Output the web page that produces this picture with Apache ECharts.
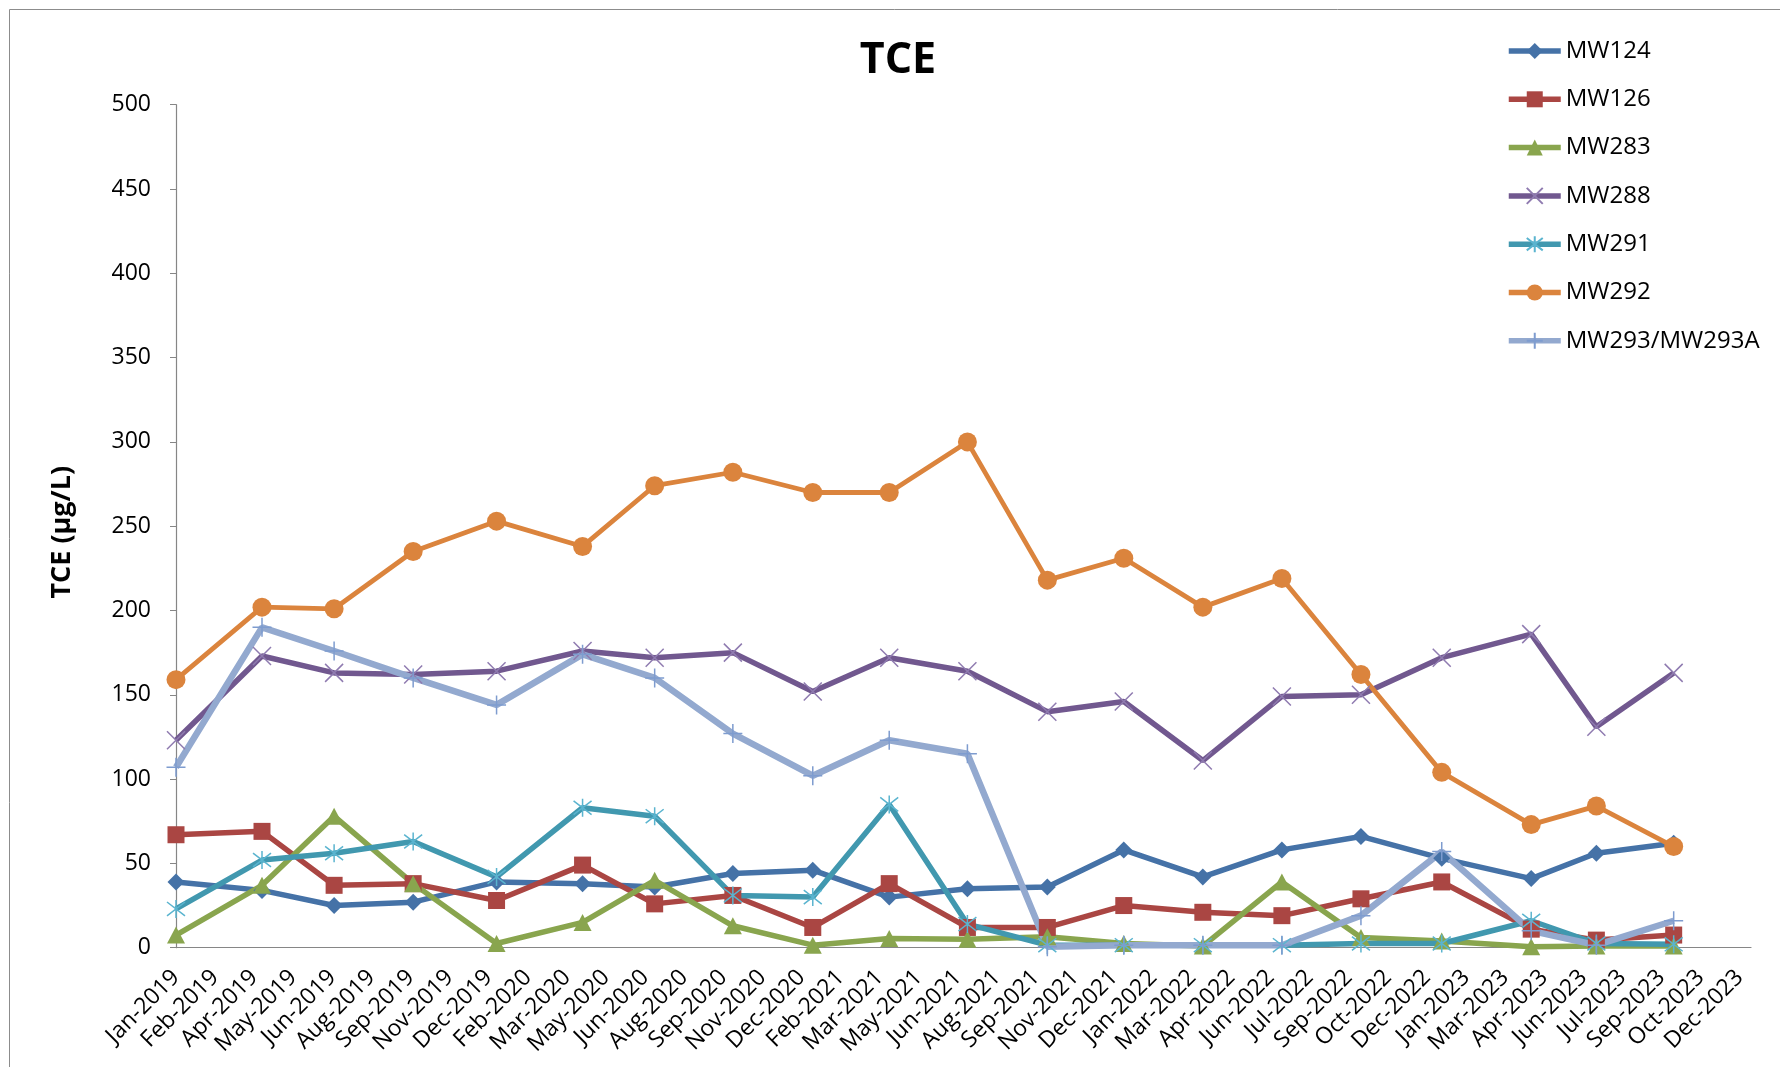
<!DOCTYPE html>
<html><head><meta charset="utf-8">
<script src="https://cdn.jsdelivr.net/npm/echarts@6/dist/echarts.min.js"></script>
<style>html,body{margin:0;padding:0;background:#fff}#c{width:1780px;height:1067px}</style>
</head><body><div id="c"></div>
<script>
// ---- data ----
const startDate = '2019-01-01';
const axisEndDays = 1813;
const tickStepDays = 45;
const monthNames = ['Jan','Feb','Mar','Apr','May','Jun','Jul','Aug','Sep','Oct','Nov','Dec'];
const sampleDates = ['2019-01-01','2019-04-10','2019-07-02','2019-10-01','2020-01-05','2020-04-13','2020-07-05','2020-10-03','2021-01-03','2021-04-01','2021-06-30','2021-09-30','2021-12-27','2022-03-28','2022-06-27','2022-09-26','2022-12-28','2023-04-10','2023-06-24','2023-09-21'];
const seriesNames = ['MW124','MW126','MW283','MW288','MW291','MW292','MW293/MW293A'];
const mw124 = [39, 34, 25, 27, 39, 38, 36, 44, 46, 30, 35, 36, 58, 42, 58, 66, 53, 41, 56, 62];
const mw126 = [67, 69, 37, 38, 28, 49, 26, 31, 12, 38, 12, 12, 25, 21, 19, 29, 39, 11, 4.5, 7.5];
const mw283 = [7.5, 37, 78, 38, 2.5, 15, 40, 13, 1.5, 5.5, 5, 6.5, 2.5, 1, 39, 6, 4, 0.5, 1, 1];
const mw288 = [123, 173, 163, 162, 164, 176, 172, 175, 152, 172, 164, 140, 146, 111, 149, 150, 172, 186, 131, 163];
const mw291 = [23, 52, 56, 63, 42, 83, 78, 31, 30, 85, 14, 1.5, 1.5, 1.5, 1.5, 2.5, 2.5, 16, 2.5, 2];
const mw292 = [159, 202, 201, 235, 253, 238, 274, 282, 270, 270, 300, 218, 231, 202, 219, 162, 104, 73, 84, 60];
const mw293 = [107, 190, 176, 160, 144, 174, 160, 127, 102, 123, 115, 0.5, 1.5, 1.5, 1.5, 19, 57, 10, 1.5, 16];
const yMin = 0, yMax = 500, yStep = 50;

// ---- helpers ----
const DAY = 86400000;
const t0 = Date.parse(startDate);
function dayOffset(s){ return Math.round((Date.parse(s) - t0) / DAY); }
function pairs(vals){ return vals.map((v,i)=>[dayOffset(sampleDates[i]), v]); }
function fmtTick(v){
  if (Math.abs(v % tickStepDays) > 1e-6) return '';
  const d = new Date(t0 + v*DAY);
  return monthNames[d.getUTCMonth()] + '-' + d.getUTCFullYear();
}
const FONT = 'Open Sans';
const styles = [
  {vals: mw124, line:'#4572A7', w:5.5, sym:'diamond', size:17, fill:'#4572A7', border:null},
  {vals: mw126, line:'#AA4643', w:5.5, sym:'rect', size:17, fill:'#AA4643', border:null},
  {vals: mw283, line:'#89A54E', w:5.5, sym:'triangle', size:[18,17], fill:'#89A54E', border:null},
  {vals: mw288, line:'#71588F', w:5.5, sym:'path://M0,0L10,10M10,0L0,10', size:18, fill:'#8F7BB0', border:'#8F7BB0'},
  {vals: mw291, line:'#4198AF', w:5.5, sym:'path://M0,0L10,10M10,0L0,10M5,-1.5L5,11.5', size:18, fill:'#5AB4CF', border:'#5AB4CF'},
  {vals: mw292, line:'#DB843D', w:4.8, sym:'circle', size:19, fill:'#DB843D', border:null},
  {vals: mw293, line:'#93A9CF', w:6.5, sym:'path://M5,0L5,10M0,5L10,5', size:19, fill:'#7E9CCF', border:'#7E9CCF'}
];

const series = styles.map((s,i)=>({
  name: seriesNames[i],
  type: 'line',
  data: pairs(s.vals),
  symbol: s.sym,
  symbolSize: s.size,
  showAllSymbol: true,
  lineStyle: {color: s.line, width: s.w},
  itemStyle: s.border ? {color: s.fill, borderColor: s.border, borderWidth: 1.5} : {color: s.fill, borderWidth: 0},
  emphasis: {disabled: true},
  animation: false
}));

const chart = echarts.init(document.getElementById('c'));
chart.setOption({
  backgroundColor: '#fff',
  animation: false,
  title: {
    text: 'TCE', left: 898, top: 39, textAlign: 'center', padding: 0,
    textStyle: {fontFamily: FONT, fontWeight: 'bold', fontSize: 43, color: '#000'}
  },
  legend: {
    orient: 'vertical', left: 1501, top: 32,
    itemWidth: 52, itemHeight: 20, itemGap: 20.3,
    lineStyle: {width: 5.5},
    textStyle: {fontFamily: FONT, fontSize: 24, color: '#000', lineHeight: 28},
    data: seriesNames
  },
  grid: {left: 176, right: 29, top: 104.7, bottom: 119.3, containLabel: false},
  xAxis: {
    type: 'value', min: 0, max: axisEndDays, interval: tickStepDays,
    axisLine: {show: true, onZero: false, lineStyle: {color: '#868686', width: 1.2}},
    axisTick: {show: false},
    splitLine: {show: false},
    axisLabel: {rotate: 45, margin: 26, padding: [12, 0, 0, 0], fontFamily: FONT, fontSize: 23, color: '#000', formatter: fmtTick, showMaxLabel: false}
  },
  yAxis: {
    type: 'value', min: yMin, max: yMax, interval: yStep,
    name: 'TCE (µg/L)', nameLocation: 'middle', nameGap: 100,
    nameTextStyle: {fontFamily: FONT, fontWeight: 'bold', fontSize: 27, color: '#000', padding: [0, 12, 0, 0]},
    axisLine: {show: true, lineStyle: {color: '#868686', width: 1.2}},
    axisTick: {show: true, inside: false, length: 6, lineStyle: {color: '#868686'}},
    splitLine: {show: false},
    axisLabel: {margin: 25, fontFamily: FONT, fontSize: 23, color: '#000'}
  },
  graphic: [{
    type: 'polyline', silent: true,
    shape: {points: [[9.5, 1067], [9.5, 9.5], [1780, 9.5]]},
    style: {stroke: '#8c8c8c', lineWidth: 1, fill: null}
  }],
  series: series
});
</script></body></html>
